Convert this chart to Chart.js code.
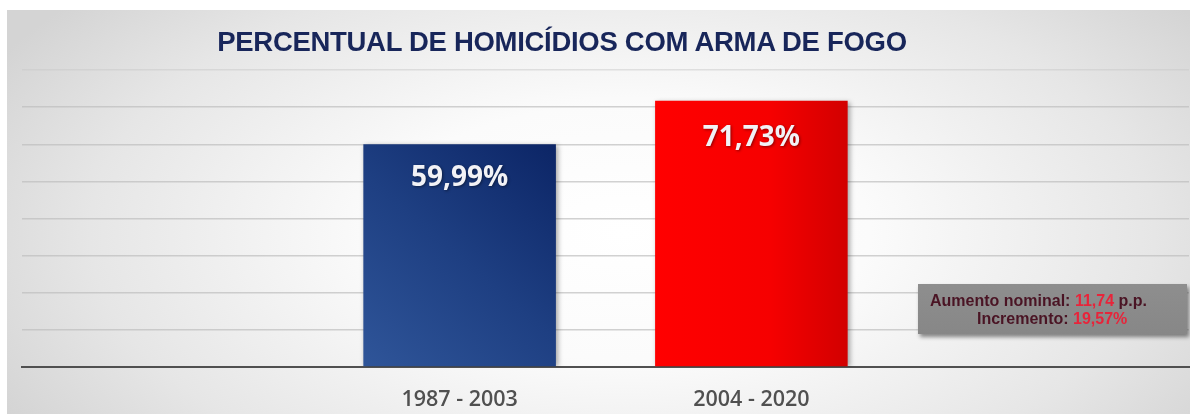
<!DOCTYPE html>
<html>
<head>
<meta charset="utf-8">
<script src="https://cdn.jsdelivr.net/npm/chart.js@4"></script>
<style>
  html, body { margin: 0; padding: 0; background: #ffffff; }
  #wrap { position: relative; width: 1190px; height: 414px; overflow: hidden; background: #fff; }
  #frame { position: absolute; left: 7px; top: 10px; width: 1183px; height: 404px;
    background: radial-gradient(ellipse 60% 90% at 52% 55%, #ffffff 0%, #fbfbfb 35%, #e6e6e6 75%, #d4d4d4 100%); }
  #title { position: absolute; left: 0; top: 26px; width: 1124px; text-align: center;
    font-family: "Liberation Sans", Arial, sans-serif; font-weight: bold; font-size: 27.5px;
    color: #18265a; letter-spacing: -0.3px; white-space: nowrap; }
  #note { position: absolute; left: 918px; top: 284px; width: 269px; height: 50px;
    background: linear-gradient(#8e8e8e, #878787); box-shadow: 2px 3px 4px rgba(0,0,0,0.45);
    font-family: "Liberation Sans", Arial, sans-serif; font-weight: bold; font-size: 16px;
    color: #4a1424; line-height: 18px; box-sizing: border-box; padding-top: 8px; }
  #note .r { color: #e8243a; }
  #note .l1 { padding-left: 12px; white-space: nowrap; }
  #note .l2 { padding-left: 59px; white-space: nowrap; }
  canvas { position: absolute; left: 0; top: 0; }
</style>
</head>
<body>
<div id="wrap">
  <div id="frame"></div>
  <canvas id="c" width="1190" height="414"></canvas>
  <div id="title">PERCENTUAL DE HOMICÍDIOS COM ARMA DE FOGO</div>
  <div id="note">
    <div class="l1">Aumento nominal: <span class="r">11,74</span> p.p.</div>
    <div class="l2">Incremento: <span class="r">19,57%</span></div>
  </div>
</div>
<script>
const categories = ['', '1987 - 2003', '2004 - 2020', ''];
const percentValues = [null, 59.99, 71.73, null];
const yTicks = [0, 10, 20, 30, 40, 50, 60, 70, 80];

function barFill(ctx) {
  const chart = ctx.chart;
  const area = chart.chartArea;
  const xs = chart.scales && chart.scales.x;
  const ys = chart.scales && chart.scales.y;
  const fallback = ctx.dataIndex === 1 ? '#1f4287' : '#f00000';
  if (!area || !xs || !ys) return fallback;
  const cx = xs.getPixelForValue(ctx.dataIndex);
  const half = (area.right - area.left) / categories.length * 0.66 / 2;
  const v = percentValues[ctx.dataIndex];
  const top = ys.getPixelForValue(v == null ? 0 : v);
  const base = ys.getPixelForValue(0);
  if (![cx, half, top, base].every(Number.isFinite)) return fallback;
  const c = chart.ctx;
  if (ctx.dataIndex === 1) {
    const g = c.createLinearGradient(cx - half, base, cx + half, top);
    g.addColorStop(0, '#2f5599');
    g.addColorStop(0.5, '#1e3f82');
    g.addColorStop(1, '#0c2566');
    return g;
  }
  const g = c.createLinearGradient(cx - half, 0, cx + half, 0);
  g.addColorStop(0, '#ff0000');
  g.addColorStop(0.6, '#f60000');
  g.addColorStop(1, '#d20000');
  return g;
}

const labelOffsets = [0, 34, 37, 0];

const valueLabels = {
  id: 'valueLabels',
  beforeDatasetsDraw(chart) {
    const c = chart.ctx;
    c.save();
    c.shadowColor = 'rgba(0,0,0,0.35)';
    c.shadowBlur = 5;
    c.shadowOffsetX = 2;
    c.shadowOffsetY = 1;
  },
  afterDatasetsDraw(chart) {
    const c = chart.ctx;
    c.restore();
    const meta = chart.getDatasetMeta(0);
    c.save();
    c.font = 'bold 28px "Open Sans", sans-serif';
    c.fillStyle = '#f2f2f6';
    c.textAlign = 'center';
    c.textBaseline = 'middle';
    c.shadowColor = 'rgba(0,0,0,0.45)';
    c.shadowBlur = 3;
    c.shadowOffsetX = 1;
    c.shadowOffsetY = 1;
    meta.data.forEach((el, i) => {
      const v = percentValues[i];
      if (v == null) return;
      c.fillText(v.toFixed(2).replace('.', ',') + '%', el.x, el.y + labelOffsets[i]);
    });
    c.restore();
  }
};

new Chart(document.getElementById('c'), {
  type: 'bar',
  data: {
    labels: categories,
    datasets: [{
      data: percentValues,
      backgroundColor: barFill,
      borderWidth: 0,
      categoryPercentage: 1,
      barPercentage: 0.66
    }]
  },
  options: {
    responsive: false,
    animation: false,
    devicePixelRatio: 1,
    layout: { padding: { left: 22, right: 1, top: 70, bottom: 4 } },
    plugins: { legend: { display: false }, tooltip: { enabled: false }, title: { display: false } },
    scales: {
      x: {
        afterFit(axis) { axis.height = 43; },
        grid: { display: false, drawTicks: false },
        border: { display: true, color: '#505050', width: 2 },
        ticks: { color: '#505050', font: { family: '"Open Sans", sans-serif', size: 21.5, weight: '600' }, padding: 20 }
      },
      y: {
        min: 0, max: 80,
        afterBuildTicks(axis) { axis.ticks = yTicks.map(v => ({ value: v })); },
        grid: { color: (ctx) => ctx.tick && ctx.tick.value === 80 ? 'rgba(200,200,200,0.5)' : 'rgba(190,190,190,0.7)', lineWidth: 1.5, drawTicks: false },
        border: { display: false },
        ticks: { display: false }
      }
    }
  },
  plugins: [valueLabels]
});
</script>
</body>
</html>
